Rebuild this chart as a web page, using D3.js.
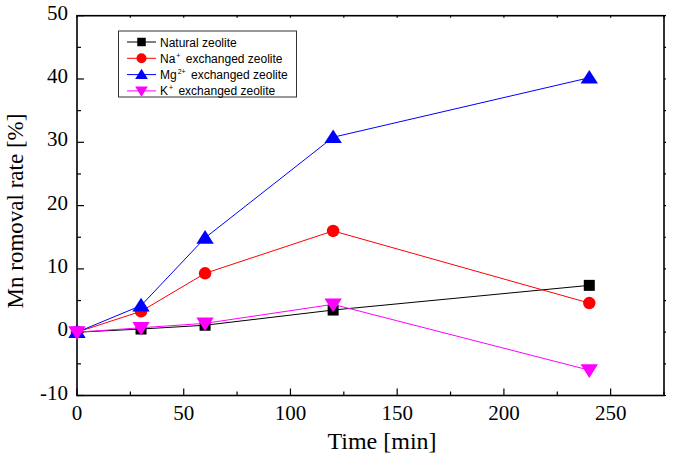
<!DOCTYPE html>
<html><head><meta charset="utf-8">
<script src="https://cdn.jsdelivr.net/npm/d3@7"></script>
<style>body{margin:0;background:#fff}</style>
</head><body>
<svg id="c" width="676" height="457"></svg>
<script>
const times = [0, 30, 60, 120, 240];
const natural = [0, 0.5, 1.1, 3.5, 7.4];
const naEx = [0, 3.3, 9.3, 16.0, 4.6];
const mgEx = [0, 4.2, 14.9, 30.8, 40.2];
const kEx = [0, 0.7, 1.4, 4.4, -6.0];
const xTicks = [0, 50, 100, 150, 200, 250];
const yTicks = [-10, 0, 10, 20, 30, 40, 50];

const series = [
  {name: "Natural zeolite", sup: "", ion: "", vals: natural, color: "#000000", sym: "square"},
  {name: " exchanged zeolite", ion: "Na", sup: "+", vals: naEx, color: "#ff0000", sym: "circle"},
  {name: " exchanged zeolite", ion: "Mg", sup: "2+", vals: mgEx, color: "#0000ff", sym: "tri"},
  {name: " exchanged zeolite", ion: "K", sup: "+", vals: kEx, color: "#ff00ff", sym: "itri"}
];

const svg = d3.select("#c");
const L = 77, R = 664, T = 15.7, B = 395.5;
const x = d3.scaleLinear().domain([0, 275]).range([L, R]);
const y = d3.scaleLinear().domain([-10, 50]).range([B, T]);

function marker(g, sym, cx, cy, s, color) {
  if (sym === "square") {
    g.append("rect").attr("x", cx - s/2).attr("y", cy - s/2).attr("width", s).attr("height", s).attr("fill", color);
  } else if (sym === "circle") {
    g.append("circle").attr("cx", cx).attr("cy", cy).attr("r", s/2).attr("fill", color);
  } else if (sym === "tri") {
    const h = s * 0.87;
    g.append("path").attr("d", `M${cx},${cy - h*0.6}L${cx + s*0.58},${cy + h*0.45}L${cx - s*0.58},${cy + h*0.45}Z`).attr("fill", color);
  } else {
    const h = s * 0.87;
    g.append("path").attr("d", `M${cx},${cy + h*0.6}L${cx + s*0.58},${cy - h*0.45}L${cx - s*0.58},${cy - h*0.45}Z`).attr("fill", color);
  }
}

// axes
const minorY = d3.range(-10, 51, 5);
const minorX = d3.range(0, 276, 25);
const ax = svg.append("g").attr("stroke", "#000").attr("stroke-width", 1.2);
minorY.forEach(v => {
  const major = v % 10 === 0;
  ax.append("line").attr("x1", L).attr("x2", L + (major ? 7 : 4)).attr("y1", y(v)).attr("y2", y(v));
  ax.append("line").attr("x1", R).attr("x2", R + 2).attr("y1", y(v)).attr("y2", y(v));
});
minorX.forEach(v => {
  const major = v % 50 === 0;
  ax.append("line").attr("x1", x(v)).attr("x2", x(v)).attr("y1", B).attr("y2", B - (major ? 7 : 4));
  ax.append("line").attr("x1", x(v)).attr("x2", x(v)).attr("y1", T).attr("y2", T + 2);
});
svg.append("rect").attr("x", L).attr("y", T).attr("width", R - L).attr("height", B - T)
  .attr("fill", "none").attr("stroke", "#000").attr("stroke-width", 1.6);

const tf = "'Liberation Serif','Times New Roman',serif";
svg.append("g").selectAll("text").data(yTicks).join("text")
  .attr("x", 68).attr("y", d => y(d) + 4).attr("text-anchor", "end")
  .attr("font-family", tf).attr("font-size", 21).text(d => d === -10 ? "-10" : d);
svg.append("g").selectAll("text").data(xTicks).join("text")
  .attr("x", d => x(d)).attr("y", 420).attr("text-anchor", "middle")
  .attr("font-family", tf).attr("font-size", 21).text(d => d);
svg.append("text").attr("x", 382).attr("y", 449).attr("text-anchor", "middle")
  .attr("font-family", tf).attr("font-size", 24).text("Time [min]");
svg.append("text").attr("transform", "translate(23,211) rotate(-90)").attr("text-anchor", "middle")
  .attr("font-family", tf).attr("font-size", 23).text("Mn romoval rate [%]");

// series
const line = d3.line().x((d, i) => x(times[i])).y(d => y(d));
const sizes = {square: 11, circle: 12.5, tri: 15, itri: 15};
series.forEach(s => {
  const g = svg.append("g");
  g.append("path").attr("d", line(s.vals)).attr("fill", "none").attr("stroke", s.color).attr("stroke-width", 1);
  s.vals.forEach((v, i) => marker(g, s.sym, x(times[i]), y(v), sizes[s.sym], s.color));
});

// legend
const lg = svg.append("g");
lg.append("rect").attr("x", 118.5).attr("y", 31).attr("width", 178).attr("height", 66)
  .attr("fill", "#fff").attr("stroke", "#333").attr("stroke-width", 1);
const lsizes = {square: 8.5, circle: 10, tri: 11, itri: 11};
series.forEach((s, i) => {
  const cy = 42 + i * 16.3;
  lg.append("line").attr("x1", 127).attr("x2", 156).attr("y1", cy).attr("y2", cy).attr("stroke", s.color).attr("stroke-width", 1);
  marker(lg, s.sym, 141.5, cy, lsizes[s.sym], s.color);
  const t = lg.append("text").attr("x", 160).attr("y", cy + 4.5)
    .attr("font-family", "'Liberation Sans',Arial,sans-serif").attr("font-size", 12).attr("fill", "#000");
  if (s.ion) {
    t.append("tspan").text(s.ion);
    t.append("tspan").attr("dy", -5).attr("dx", 1).attr("font-size", 7).text(s.sup);
    t.append("tspan").attr("dy", 5).attr("dx", 2).text(s.name);
  } else {
    t.text(s.name);
  }
});
</script>
</body></html>
